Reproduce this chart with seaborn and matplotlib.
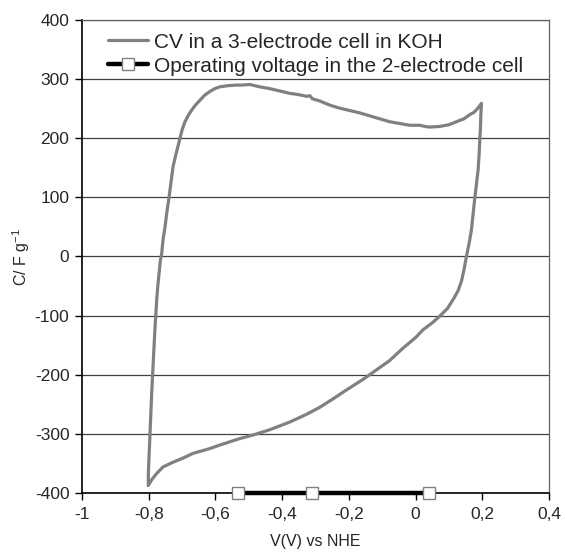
import numpy as np
import pandas as pd
import seaborn as sns
import matplotlib.pyplot as plt

# CV loop (V vs NHE, C in F/g)
cv_v = [-0.801, -0.790, -0.776, -0.757, -0.727, -0.697, -0.667, -0.617, -0.587,
        -0.527, -0.487, -0.437, -0.377, -0.327, -0.287, -0.248, -0.208, -0.158,
        -0.118, -0.078, -0.038, 0.000, 0.022, 0.050, 0.072, 0.095, 0.112, 0.127,
        0.137, 0.145, 0.152, 0.160, 0.167, 0.172, 0.177, 0.182, 0.187, 0.190,
        0.192, 0.194, 0.195, 0.197, 0.185, 0.175, 0.162, 0.145, 0.122, 0.100,
        0.072, 0.045, 0.032, 0.012, -0.018, -0.048, -0.078, -0.108, -0.138,
        -0.168, -0.198, -0.228, -0.257, -0.287, -0.310, -0.317, -0.327, -0.352,
        -0.377, -0.407, -0.437, -0.467, -0.497, -0.520, -0.537, -0.562, -0.587,
        -0.602, -0.617, -0.632, -0.647, -0.660, -0.672, -0.682, -0.692, -0.700,
        -0.707, -0.717, -0.727, -0.733, -0.739, -0.746, -0.751, -0.757, -0.761,
        -0.765, -0.769, -0.773, -0.776, -0.781, -0.786, -0.791, -0.796, -0.799,
        -0.801, -0.801]
cv_c = [-387, -377, -367, -356, -348, -341, -333, -325, -319,
        -308, -302, -293, -280, -267, -255, -241, -226, -208,
        -192, -176, -155, -137, -124, -112, -101, -88, -73, -58,
        -42, -22, 0, 22, 45, 72, 98, 122, 146, 172,
        197, 215, 236, 259, 250, 244, 240, 233, 228, 223,
        220, 219, 219.5, 222, 222, 225, 228, 233, 238,
        243, 247, 251, 256, 263, 267, 272, 271, 274,
        276, 280, 284, 287, 291, 290, 290, 289, 287,
        284, 279, 273, 264, 256, 247, 238, 227, 214,
        198, 176, 152, 126, 100, 73, 50, 28, 5,
        -7, -29, -52, -74, -120, -175, -232, -299, -340,
        -367, -387]

# operating voltage window of the 2-electrode cell
op_v = [-0.533, -0.311, 0.039]
op_c = [-400, -400, -400]

x_ticks = [-1, -0.8, -0.6, -0.4, -0.2, 0, 0.2, 0.4]
x_labels = ["-1", "-0,8", "-0,6", "-0,4", "-0,2", "0", "0,2", "0,4"]
y_ticks = [-400, -300, -200, -100, 0, 100, 200, 300, 400]

sns.set_style("white")
plt.rcParams['font.family'] = ['Liberation Sans', 'DejaVu Sans']
plt.rcParams['axes.unicode_minus'] = False

fig = plt.figure(figsize=(5.65, 5.57), dpi=100)
ax = fig.add_axes([0.145, 0.115, 0.827, 0.849])

cv = pd.DataFrame({"v": cv_v, "c": cv_c})
op = pd.DataFrame({"v": op_v, "c": op_c})

for yv in y_ticks[1:]:
    ax.axhline(yv, color="#404040", lw=0.9, zorder=1)

sns.lineplot(data=cv, x="v", y="c", sort=False, estimator=None, ax=ax,
             color="#808080", lw=2.3, label="CV in a 3-electrode cell in KOH",
             zorder=3)
sns.lineplot(data=op, x="v", y="c", sort=False, estimator=None, ax=ax,
             color="black", lw=3.2, marker="s", markersize=8,
             markerfacecolor="white", markeredgecolor="#808080",
             markeredgewidth=1, clip_on=False, zorder=5,
             label="Operating voltage in the 2-electrode cell")

ax.set_xlim(-1, 0.4)
ax.set_ylim(-400, 400)
ax.set_xticks(x_ticks)
ax.set_xticklabels(x_labels)
ax.set_yticks(y_ticks)
ax.tick_params(axis="both", direction="out", length=5, width=1, color="black",
               labelsize=12.5, bottom=True, left=True)
ax.tick_params(axis="x", pad=5)
ax.tick_params(axis="y", pad=4)

for s in ["left", "bottom"]:
    ax.spines[s].set_color("black")
    ax.spines[s].set_linewidth(1.2)
for s in ["top", "right"]:
    ax.spines[s].set_color("#606060")
    ax.spines[s].set_linewidth(0.9)

ax.set_xlabel("V(V) vs NHE", fontsize=11.5, labelpad=9)
ax.set_ylabel("C/ F g$^{\\mathregular{-1}}$", fontsize=11.5, labelpad=2)

leg = ax.legend(loc="upper left", bbox_to_anchor=(0.03, 1.0), frameon=False,
                fontsize=15, handlelength=1.9, handletextpad=0.3,
                labelspacing=0.25, borderaxespad=0.2)

fig.savefig("out.png", dpi=100)
